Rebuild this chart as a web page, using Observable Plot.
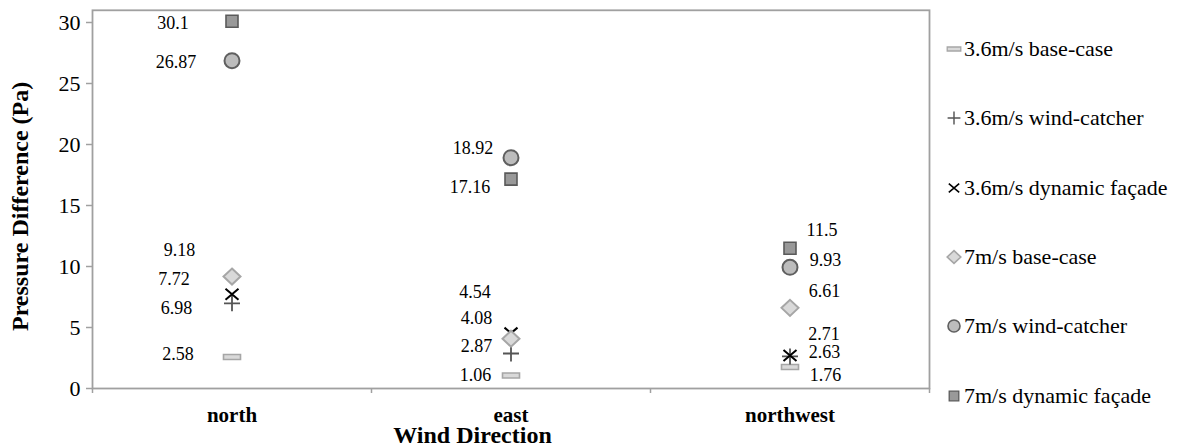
<!DOCTYPE html>
<html><head><meta charset="utf-8">
<script src="https://cdn.jsdelivr.net/npm/d3@7"></script>
<script src="https://cdn.jsdelivr.net/npm/@observablehq/plot@0.6"></script>
<style>
body{margin:0;background:#fff;}
#wrap{position:relative;width:1196px;height:448px;font-family:"Liberation Serif","Tinos","DejaVu Serif","Times New Roman",serif;overflow:hidden;}
.item{position:absolute;left:944px;height:26px;display:flex;align-items:center;font-size:22px;color:#000;white-space:nowrap;}
</style></head><body><div id="wrap"></div>
<script>
// ---- data ----
const categories = ["north", "east", "northwest"];
const seriesNames = ["3.6m/s base-case", "3.6m/s wind-catcher", "3.6m/s dynamic façade",
                     "7m/s base-case", "7m/s wind-catcher", "7m/s dynamic façade"];
const base36 = [2.58, 1.06, 1.76];
const windCatcher36 = [6.98, 2.87, 2.63];
const dynamic36 = [7.72, 4.54, 2.71];
const base7 = [9.18, 4.08, 6.61];
const windCatcher7 = [26.87, 18.92, 9.93];
const dynamic7 = [30.1, 17.16, 11.5];
const yTicks = [0, 5, 10, 15, 20, 25, 30];

// ---- label layout nudges (px), [series][category] ----
const labelDx = [[-54, -35.5, 35.5], [-55.5, -34.5, 34.5], [-58, -36, 34], [-52.5, -34.5, 34.5], [-56, -38, 35.5], [-59, -41, 32]];
const labelDy = [[-3, 0, 8], [5, -7, -4.5], [-15, -41, -21.5], [-26, -20, -17], [2, -9, -7.5], [2, 8, -18]];

const values = [base36, windCatcher36, dynamic36, base7, windCatcher7, dynamic7];
const rows = [];
seriesNames.forEach((s, si) => categories.forEach((c, ci) =>
  rows.push({series: s, si, cat: c, ci, pos: ci + 0.5, value: values[si][ci]})));

// ---- marker shapes ----
function shapes(k) {
  return [
    {draw(c) { c.rect(-8.5 * k, -2.5 * k, 17 * k, 5 * k); }},
    {draw(c) { c.moveTo(-8 * k, 0); c.lineTo(8 * k, 0); c.moveTo(0, -8 * k); c.lineTo(0, 8 * k); }},
    {draw(c) { c.moveTo(-6.5 * k, -5.5 * k); c.lineTo(6.5 * k, 5.5 * k); c.moveTo(-6.5 * k, 5.5 * k); c.lineTo(6.5 * k, -5.5 * k); }},
    {draw(c) { c.moveTo(0, -8 * k); c.lineTo(8.5 * k, 0); c.lineTo(0, 8 * k); c.lineTo(-8.5 * k, 0); c.closePath(); }},
    {draw(c) { c.moveTo(7.5 * k, 0); c.arc(0, 0, 7.5 * k, 0, 2 * Math.PI); c.closePath(); }},
    {draw(c) { c.rect(-6 * k, -6 * k, 12 * k, 12 * k); }}
  ];
}
const styles = [
  {fill: "#d9d9d9", stroke: "#a6a6a6", strokeWidth: 1.6},
  {fill: "none", stroke: "#555555", strokeWidth: 1.8},
  {fill: "none", stroke: "#000000", strokeWidth: 2},
  {fill: "#d9d9d9", stroke: "#a6a6a6", strokeWidth: 2},
  {fill: "#bcbcbc", stroke: "#5f5f5f", strokeWidth: 2},
  {fill: "#999999", stroke: "#5a5a5a", strokeWidth: 1.6}
];
const plotShapes = shapes(1);

const font = '"Liberation Serif", "Tinos", "DejaVu Serif", "Times New Roman", serif';

const marks = [
  Plot.frame({stroke: "#a0a0a0", strokeWidth: 1.8}),
  Plot.axisY(yTicks, {tickSize: 6, tickPadding: 6, stroke: "#a0a0a0", strokeWidth: 1.5, fill: "#000", fontSize: 22, label: null}),
  Plot.axisX([0, 1, 2, 3], {tickSize: 5, tickFormat: () => "", stroke: "#a0a0a0", strokeWidth: 1.5, label: null}),
  Plot.axisX([0.5, 1.5, 2.5], {tickSize: 0, tickPadding: 19, tickFormat: d => categories[Math.round(d - 0.5)],
    fill: "#000", fontSize: 21, fontWeight: "bold", label: null}),
  Plot.text(["Wind Direction"], {frameAnchor: "bottom", text: d => d, dx: -38.5, dy: 47, textAnchor: "middle", lineAnchor: "middle",
    fontSize: 24, fontWeight: "bold", fill: "#000"}),
  Plot.text(["Pressure Difference (Pa)"], {frameAnchor: "left", text: d => d, rotate: -90, dx: -72, dy: 7, textAnchor: "middle", lineAnchor: "middle",
    fontSize: 24, fontWeight: "bold", fill: "#000"})
];
seriesNames.forEach((s, si) => {
  marks.push(Plot.dot(rows.filter(r => r.si === si), {x: "pos", y: "value", symbol: plotShapes[si], ...styles[si]}));
});
rows.forEach(r => {
  marks.push(Plot.text([r], {x: "pos", y: "value", text: d => String(d.value), dx: labelDx[r.si][r.ci], dy: labelDy[r.si][r.ci],
    fontSize: 18, fill: "#000", textAnchor: "middle"}));
});

const plot = Plot.plot({
  width: 1196, height: 448,
  marginLeft: 92, marginRight: 267, marginTop: 9.8, marginBottom: 60,
  style: {fontFamily: font, background: "white", overflow: "visible"},
  x: {type: "linear", domain: [0, 3]},
  y: {domain: [0, 31]},
  marks
});
const wrap = document.getElementById("wrap");
wrap.appendChild(plot);

// ---- legend ----
const legendShapes = shapes(0.8);
const ns = "http://www.w3.org/2000/svg";
seriesNames.forEach((s, si) => {
  const item = document.createElement("div");
  item.className = "item";
  item.style.top = (49 + si * 69.3 - 13) + "px";
  const svg = document.createElementNS(ns, "svg");
  svg.setAttribute("width", 20); svg.setAttribute("height", 26);
  const path = document.createElementNS(ns, "path");
  const p = d3.path(); legendShapes[si].draw(p);
  path.setAttribute("d", p.toString());
  path.setAttribute("transform", "translate(10,13)");
  path.setAttribute("fill", styles[si].fill);
  path.setAttribute("stroke", styles[si].stroke);
  path.setAttribute("stroke-width", styles[si].strokeWidth * 0.8);
  svg.appendChild(path);
  item.appendChild(svg);
  const span = document.createElement("span");
  span.textContent = s;
  item.appendChild(span);
  wrap.appendChild(item);
});
</script></body></html>
